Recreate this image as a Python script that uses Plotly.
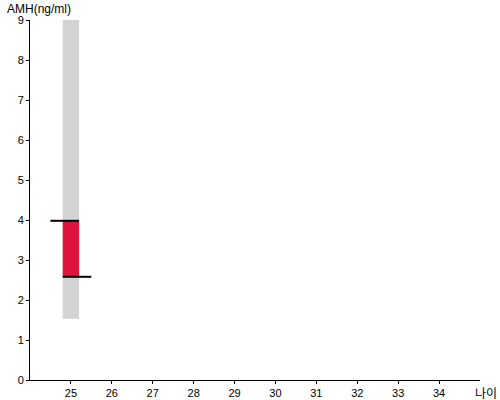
import plotly.graph_objects as go

ages = [25]
ref_low = [1.53]
ref_high = [9.0]
result_low = [2.58]
result_high = [3.98]
x_ticks = [25, 26, 27, 28, 29, 30, 31, 32, 33, 34]
y_ticks = [0, 1, 2, 3, 4, 5, 6, 7, 8, 9]

fig = go.Figure()
fig.add_trace(go.Bar(x=ages, y=[h - l for h, l in zip(ref_high, ref_low)], base=ref_low,
                     width=0.4, marker=dict(color="#d3d3d3", line=dict(width=0)), hoverinfo="skip"))
fig.add_trace(go.Bar(x=ages, y=[h - l for h, l in zip(result_high, result_low)], base=result_low,
                     width=0.4, marker=dict(color="#dc143c", line=dict(width=0)), hoverinfo="skip"))
for a, v in zip(ages, result_high):
    fig.add_trace(go.Scatter(x=[a - 0.5, a + 0.2], y=[v, v], mode="lines",
                             line=dict(color="black", width=2), hoverinfo="skip"))
for a, v in zip(ages, result_low):
    fig.add_trace(go.Scatter(x=[a - 0.2, a + 0.5], y=[v, v], mode="lines",
                             line=dict(color="black", width=2), hoverinfo="skip"))

tickfont = dict(family="Liberation Sans, Arial, sans-serif", size=11, color="black")
fig.update_layout(
    width=500, height=400,
    margin=dict(l=30, r=20, t=20, b=20, autoexpand=False),
    paper_bgcolor="white", plot_bgcolor="white",
    showlegend=False, barmode="overlay",
    font=dict(family="Liberation Sans, Arial, sans-serif", size=11, color="black"),
    xaxis=dict(range=[24, 35], tickvals=x_ticks, showgrid=False, zeroline=False,
               showline=True, linecolor="black", linewidth=1, ticks="outside", ticklen=3,
               tickcolor="black", fixedrange=True, automargin=False, tickfont=tickfont),
    yaxis=dict(range=[0, 9], tickvals=y_ticks, showgrid=False, zeroline=False,
               showline=True, linecolor="black", linewidth=1, ticks="outside", ticklen=3,
               tickcolor="black", fixedrange=True, automargin=False, tickfont=tickfont),
    annotations=[
        dict(text="AMH(ng/ml)", xref="paper", yref="paper", x=0, y=1.0, xshift=-25, yshift=11,
             xanchor="left", yanchor="middle", showarrow=False,
             font=dict(size=12, color="black")),
        dict(text="나이", xref="paper", yref="paper", x=1.0, y=0, yshift=-12, xshift=-7,
             xanchor="left", yanchor="middle", showarrow=False,
             font=dict(size=12, color="black", family="Noto Sans CJK KR")),
    ],
)
fig.write_html("out.html", config={"displayModeBar": False},
               post_script="document.body.style.margin='0';document.body.style.overflow='hidden';")
